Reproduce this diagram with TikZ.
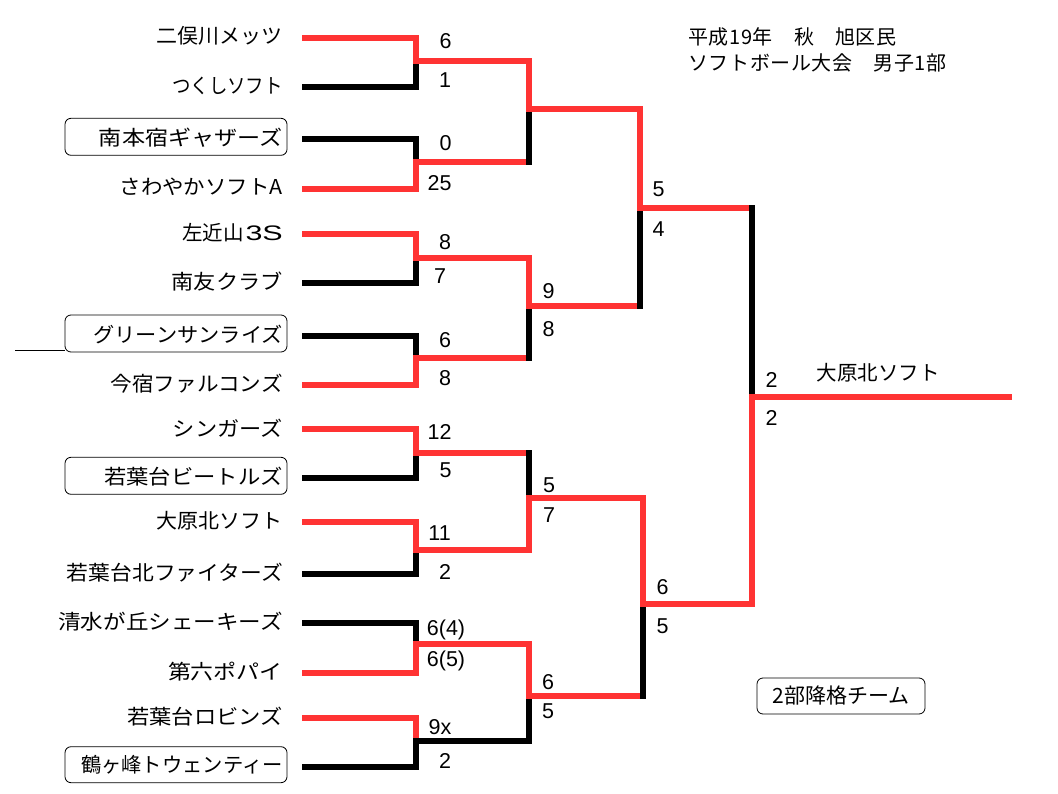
\documentclass[tikz,border=0pt]{standalone}
\usepackage{graphicx}
\usepackage{fontspec}
\setmainfont{Noto Sans CJK JP}
\newfontfamily\jpfont{Noto Sans CJK JP}
\newfontfamily\arfont{Liberation Sans}
\definecolor{bred}{RGB}{255,51,51}
\newcommand\tk{\kern0.6pt}
\newcommand\wideLatin[1]{\scalebox{1.45}[1]{\arfont\fontsize{21}{24}\selectfont #1}}
\begin{document}
\begin{tikzpicture}[x=1pt,y=-1pt,
  redln/.style={draw=bred,line width=6pt,line join=miter,line cap=butt},
  blkln/.style={draw=black,line width=6pt,line join=miter,line cap=butt},
  upin/.style={shorten <=3pt,shorten >=-3pt},
  downin/.style={shorten <=-3pt,shorten >=3pt},
  team/.style={anchor=east,inner sep=0pt,font=\jpfont\fontsize{20.5}{24}\selectfont},
  score/.style={inner sep=0pt,font=\arfont\fontsize{21.5}{24}\selectfont},
  teambox/.style={draw,rounded corners=6pt,line width=0.8pt},
  titletxt/.style={anchor=west,inner sep=0pt,font=\jpfont\fontsize{20}{22}\selectfont}]
\useasboundingbox (0,0) rectangle (1058,794);
\fill[white] (0,0) rectangle (1058,794);

% team line starts
\foreach \i/\y in {1/37.7,2/87.3,3/139.3,4/188.7,5/234.3,6/283.3,7/336,8/385,
  9/429.3,10/478.3,11/522.3,12/574.3,13/623.3,14/672.7,15/718.3,16/766.7}
  \coordinate (s\i) at (302,\y);

% junctions
\coordinate (m1) at (416,61);
\coordinate (m2) at (416,162);
\coordinate (m3) at (416,258);
\coordinate (m4) at (416,358.5);
\coordinate (m5) at (416,453);
\coordinate (m6) at (416,550);
\coordinate (m7) at (416,643.5);
\coordinate (m8) at (416,741);
\coordinate (m2r) at (529,162);
\coordinate (m4r) at (529,358.5);
\coordinate (m5r) at (529,453);
\coordinate (m8r) at (529,741);
\coordinate (a) at (529,109);
\coordinate (b) at (529,306);
\coordinate (c) at (529,498);
\coordinate (d) at (529,695.5);
\coordinate (e) at (639.5,208.5);
\coordinate (be) at (639.5,306);
\coordinate (f) at (643,604);
\coordinate (de) at (643,695.5);
\coordinate (fe) at (752,208.5);
\coordinate (fin) at (752,397);
\coordinate (end) at (1012,397);

% boxes of relegated teams
\draw[teambox] (65,118.3) rectangle (287,155.3);
\draw[teambox] (65,315) rectangle (287,352);
\draw[teambox] (65,457.3) rectangle (287,494.3);
\draw[teambox] (65,746.7) rectangle (287,782.7);
\coordinate (thinA) at (15,350.7);
\coordinate (thinB) at (65,350.7);
\draw[line width=0.9pt] (thinA) -- (thinB);

% team names
\foreach \i/\y/\sx/\name in {1/37.7/1.024/二俣川メッツ,2/87.3/0.90/つくしソフト,3/139.3/1.128/南本宿ギャザーズ,
  4/188.7/1.046/さわやかソフトA,5/234.3/1.0/{左近山\kern2pt\wideLatin{3S}},6/283.3/1.083/南友クラブ,7/336/1.035/グリーンサンライズ,
  8/385/1.055/今宿ファルコンズ,9/429.3/1.083/シンガーズ,10/478.3/1.09/若葉台ビートルズ,11/522.3/1.024/大原北ソフト,
  12/574.3/1.063/若葉台北ファイターズ,13/623.3/1.10/清水が丘シェーキーズ,14/672.7/1.12/第六ポパイ,
  15/718.3/1.087/若葉台ロビンズ,16/766.7/0.99/鶴ヶ峰トウェンティー}
  \node[team] (t\i) at (283,\y-1.5) {\scalebox{\sx}[1]{\name}};

% layer 1: first-round losers
\draw[blkln] (s2) -| (m1);
\draw[blkln] (s3) -| (m2);
\draw[blkln] (s6) -| (m3);
\draw[blkln] (s7) -| (m4);
\draw[blkln] (s10) -| (m5);
\draw[blkln] (s12) -| (m6);
\draw[blkln] (s13) -| (m7);
\draw[redln] (s15) -| (m8);
% layer 2
\draw[blkln] (s16) -| (m8) -- (m8r) -- (d);
% layer 3: winners
\draw[redln] (s1) -| (m1) -| (a) -| (e) -- (fe);
\draw[redln] (s4) -| (m2) -- (m2r);
\draw[redln] (s5) -| (m3) -| (b) -- (be);
\draw[redln] (s8) -| (m4) -- (m4r);
\draw[redln] (s9) -| (m5) -- (m5r);
\draw[redln] (s11) -| (m6) -| (c) -| (f) -| (fin) -- (end);
\draw[redln] (s14) -| (m7) -| (d) -- (de);
% layer 4: later-round losers
\draw[blkln,upin] (a) -- (m2r);
\draw[blkln,upin] (b) -- (m4r);
\draw[blkln,downin] (m5r) -- (c);
\draw[blkln,upin] (e) -- (be);
\draw[blkln,upin] (f) -- (de);
\draw[blkln,downin] (fe) -- (fin);

% scores
\node[score] (p1a) at (445.5,41) {6};
\node[score] (p1b) at (445,80.5) {1};
\node[score] (p2a) at (445.5,143) {0};
\node[score] (p2b) at (439.5,183) {25};
\node[score] (p3a) at (445,241.7) {8};
\node[score] (p3b) at (440,276) {7};
\node[score] (p4a) at (445,340) {6};
\node[score] (p4b) at (445,378) {8};
\node[score] (p5a) at (439.5,431.7) {12};
\node[score] (p5b) at (445.5,470) {5};
\node[score] (p6a) at (439.6,533) {11};
\node[score] (p6b) at (445,572) {2};
\node[score] (p7a) at (446,630) {6(4)};
\node[score] (p7b) at (446,661) {6(5)};
\node[score] (p8a) at (440,727) {9x};
\node[score] (p8b) at (445,761) {2};
\node[score] (pBa) at (548.6,290.8) {9};
\node[score] (pBb) at (548.6,329) {8};
\node[score] (pCa) at (549,485) {5};
\node[score] (pCb) at (549,515) {7};
\node[score] (pDa) at (548,682) {6};
\node[score] (pDb) at (548,711) {5};
\node[score] (pEa) at (658.5,189.5) {5};
\node[score] (pEb) at (658.5,229) {4};
\node[score] (pFa) at (662.5,587) {6};
\node[score] (pFb) at (662.5,626) {5};
\node[score] (pGa) at (771.5,379.5) {2};
\node[score] (pGb) at (771.5,418) {2};

% champion, title, legend
\node[team,anchor=center] (champ) at (878,373) {大原北ソフト};
\node[titletxt] (title1) at (688,37) {平\tk 成\tk 1\tk 9\tk 年\tk 　\tk 秋\tk 　\tk 旭\tk 区\tk 民};
\node[titletxt] (title2) at (688,63) {ソ\tk フ\tk ト\tk ボ\tk ー\tk ル\tk 大\tk 会\tk 　\tk 男\tk 子\tk 1\tk 部};
\node[draw,rounded corners=6pt,line width=0.8pt,minimum width=168pt,minimum height=36pt,inner sep=0pt,
  font=\jpfont\fontsize{21}{24}\selectfont] (legend) at (841,696) {2部降格チーム};
\end{tikzpicture}
\end{document}
